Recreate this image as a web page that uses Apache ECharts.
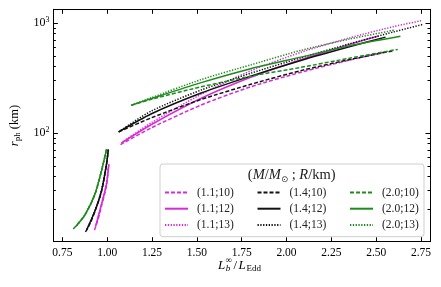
<!DOCTYPE html>
<html><head><meta charset="utf-8">
<script src="https://cdn.jsdelivr.net/npm/echarts@6/dist/echarts.min.js"></script>
<style>html,body{margin:0;padding:0;background:#fff}#c{width:441px;height:287px}</style>
</head><body><div id="c"></div>
<script>
// ---- tick labels ----
const xTicks = [0.75, 1.00, 1.25, 1.50, 1.75, 2.00, 2.25, 2.50, 2.75];
const yMajorTicks = [100, 1000];
const yMinorTicks = [20, 30, 40, 50, 60, 70, 80, 90, 200, 300, 400, 500, 600, 700, 800, 900];

// ---- legend names ----
const names = ['(1.1;10)', '(1.1;12)', '(1.1;13)', '(1.4;10)', '(1.4;12)', '(1.4;13)', '(2.0;10)', '(2.0;12)', '(2.0;13)'];

// ---- data: [L_b/L_Edd, r_ph km] ----
// M = 1.1
const m10_low = [[0.929, 13.0], [0.950, 16.5], [0.968, 21.5], [0.985, 27.5], [0.996, 33.6], [1.009, 51]];
const m12_low = [[0.935, 14.0], [0.968, 22.3], [0.996, 34.0], [1.009, 51.5]];
const m13_low = [[0.938, 14.5], [0.968, 22.5], [0.996, 34.3], [1.009, 52]];
const m10_up = [[1.074, 78], [1.247, 111], [1.524, 179], [1.8, 262], [2.08, 355], [2.35, 458], [2.56, 548]];
const m12_up = [[1.08, 81], [1.247, 119], [1.524, 206], [1.8, 320], [2.08, 462], [2.35, 637], [2.513, 760]];
const m13_up = [[1.08, 81], [1.247, 124], [1.524, 224], [1.8, 366], [2.08, 540], [2.35, 730], [2.6, 928], [2.75, 1045]];
// M = 1.4
const k10_low = [[0.879, 12.5], [0.905, 15.0], [0.931, 19.1], [0.968, 29.2], [0.996, 51], [1.006, 70]];
const k12_low = [[0.885, 13.0], [0.931, 19.3], [0.968, 29.5], [0.996, 51.5], [1.006, 70.5]];
const k13_low = [[0.888, 13.3], [0.931, 19.4], [0.968, 29.7], [0.996, 52], [1.006, 71]];
const k10_up = [[1.064, 102], [1.247, 137], [1.524, 201], [1.8, 276], [2.08, 368], [2.35, 463], [2.59, 556]];
const k12_up = [[1.064, 102], [1.247, 149], [1.524, 230], [1.8, 328], [2.08, 455], [2.35, 606], [2.552, 742]];
const k13_up = [[1.064, 102], [1.247, 158], [1.524, 245], [1.8, 348], [2.08, 481], [2.35, 644], [2.6, 830], [2.765, 973]];
// M = 2.0
const g10_low = [[0.811, 13.3], [0.845, 15.5], [0.876, 17.8], [0.931, 27.2], [0.968, 44.6], [0.996, 70.5]];
const g12_low = [[0.825, 14.0], [0.876, 17.9], [0.931, 27.5], [0.968, 45.0], [0.997, 71]];
const g13_low = [[0.830, 14.3], [0.876, 18.0], [0.931, 27.7], [0.968, 45.3], [0.998, 71.5]];
const g10_up = [[1.135, 178], [1.247, 202], [1.524, 262], [1.8, 327], [2.08, 394], [2.35, 477], [2.62, 574]];
const g12_up = [[1.135, 178], [1.247, 205], [1.524, 286], [1.8, 383], [2.08, 488], [2.35, 618], [2.635, 755]];
const g13_up = [[1.135, 178], [1.247, 209], [1.524, 305], [1.8, 415], [2.08, 562], [2.35, 712], [2.60, 858]];

const MAG = '#d62bd6', BLK = '#111111', GRN = '#1c8c1c';
const DASH = [4, 2], DOT = [1.3, 1.5];
const F = 'Liberation Serif';

const curves = [
  [names[0], MAG, DASH, m10_low, m10_up],
  [names[1], MAG, 'solid', m12_low, m12_up],
  [names[2], MAG, DOT, m13_low, m13_up],
  [names[3], BLK, DASH, k10_low, k10_up],
  [names[4], BLK, 'solid', k12_low, k12_up],
  [names[5], BLK, DOT, k13_low, k13_up],
  [names[6], GRN, DASH, g10_low, g10_up],
  [names[7], GRN, 'solid', g12_low, g12_up],
  [names[8], GRN, DOT, g13_low, g13_up]
];

const series = [];
curves.forEach(([name, color, type, low, up]) => {
  [low, up].forEach(d => series.push({
    name, type: 'line', data: d, symbol: 'none', showSymbol: false, smooth: 0.25,
    color, lineStyle: { color, width: 1.5, type }, z: 2, silent: true, animation: false
  }));
});

const axLine = { show: true, onZero: false, lineStyle: { color: '#000', width: 1 } };
const ylog = { type: 'log', min: 10.2, max: 1330, splitLine: { show: false } };
const xval = { type: 'value', min: 0.70, max: 2.80, splitLine: { show: false } };

function legendCol(left, items) {
  return {
    left, top: 186.5, orient: 'vertical', padding: 0, itemWidth: 23, itemHeight: 12, itemGap: 4.2,
    data: items, z: 6, selectedMode: false,
    itemStyle: { opacity: 0, borderWidth: 0 },
    textStyle: { fontFamily: F, fontSize: 11.5, color: '#222', padding: [0, 0, 0, 4] }
  };
}

const option = {
  animation: false,
  backgroundColor: '#fff',
  grid: { left: 52, top: 9.3, right: 11, bottom: 45.3 },
  xAxis: [
    Object.assign({}, xval, {
      position: 'bottom', axisLine: axLine,
      axisTick: { show: true, inside: true, length: 4.5, customValues: xTicks, lineStyle: { color: '#000' } },
      axisLabel: { customValues: xTicks, formatter: v => Number(v).toFixed(2), fontFamily: F, fontSize: 11.5, color: '#000', margin: 5 }
    }),
    Object.assign({}, xval, {
      position: 'top', axisLine: axLine,
      axisTick: { show: true, inside: true, length: 4.5, customValues: xTicks, lineStyle: { color: '#000' } },
      axisLabel: { show: false }
    })
  ],
  yAxis: [
    Object.assign({}, ylog, {
      position: 'left', axisLine: axLine,
      axisTick: { show: true, inside: true, length: 4.5, customValues: yMajorTicks, lineStyle: { color: '#000' } },
      axisLabel: {
        customValues: yMajorTicks, margin: 4, color: '#000',
        formatter: v => '{b|10}{s|' + Math.round(Math.log10(v)) + '}',
        rich: { b: { fontFamily: F, fontSize: 12, lineHeight: 14, color: '#000' }, s: { fontFamily: F, fontSize: 8, lineHeight: 7, verticalAlign: 'top', color: '#000' } }
      },
      name: '{i|r}{sub|ph}{n| (km)}', nameLocation: 'middle', nameRotate: 90, nameGap: 27,
      nameTextStyle: {
        rich: {
          i: { fontFamily: F, fontSize: 12.5, fontStyle: 'italic', lineHeight: 16, color: '#000' },
          sub: { fontFamily: F, fontSize: 9, lineHeight: 10, verticalAlign: 'bottom', color: '#000' },
          n: { fontFamily: F, fontSize: 12.5, lineHeight: 16, color: '#000' }
        }
      }
    }),
    Object.assign({}, ylog, {
      position: 'right', axisLine: axLine,
      axisTick: { show: true, inside: true, length: 4.5, customValues: yMajorTicks, lineStyle: { color: '#000' } },
      axisLabel: { show: false }
    }),
    Object.assign({}, ylog, {
      position: 'left', axisLine: { show: false },
      axisTick: { show: true, inside: true, length: 2.5, customValues: yMinorTicks, lineStyle: { color: '#000' } },
      axisLabel: { show: false }
    }),
    Object.assign({}, ylog, {
      position: 'right', axisLine: { show: false },
      axisTick: { show: true, inside: true, length: 2.5, customValues: yMinorTicks, lineStyle: { color: '#000' } },
      axisLabel: { show: false }
    })
  ],
  legend: [
    legendCol(164, names.slice(0, 3)),
    legendCol(256.5, names.slice(3, 6)),
    legendCol(349, names.slice(6, 9))
  ],
  graphic: {
    elements: [
      { type: 'rect', z: 4, shape: { x: 160, y: 164, width: 264, height: 72.7, r: 3 },
        style: { fill: 'rgba(255,255,255,0.85)', stroke: '#cfcfcf', lineWidth: 1 } },
      { type: 'text', z: 6, x: 291.7, y: 175.5,
        style: {
          text: '{n|(}{i|M}{n|/}{i|M}{s|\u2299}{n| ; }{i|R}{n|/km)}', align: 'center', verticalAlign: 'middle',
          textAlign: 'center', textVerticalAlign: 'middle',
          rich: {
            n: { fontFamily: F, fontSize: 14.5, lineHeight: 17, fill: '#222' },
            i: { fontFamily: F, fontSize: 14.5, fontStyle: 'italic', lineHeight: 17, fill: '#222' },
            s: { fontFamily: 'DejaVu Sans', fontSize: 8.5, lineHeight: 11, verticalAlign: 'bottom', fill: '#222' }
          }
        } },
      // x-axis title: L_b^inf / L_Edd
      { type: 'text', x: 218, y: 265.8, style: { text: 'L', fontFamily: F, fontSize: 13, fontStyle: 'italic', fill: '#000', verticalAlign: 'middle', textVerticalAlign: 'middle' } },
      { type: 'text', x: 225.5, y: 260.8, style: { text: '\u221E', fontFamily: F, fontSize: 9, fill: '#000', verticalAlign: 'middle', textVerticalAlign: 'middle' } },
      { type: 'text', x: 225.8, y: 268.8, style: { text: 'b', fontFamily: F, fontSize: 9, fontStyle: 'italic', fill: '#000', verticalAlign: 'middle', textVerticalAlign: 'middle' } },
      { type: 'text', x: 233.5, y: 265.8, style: { text: '/', fontFamily: F, fontSize: 13, fill: '#000', verticalAlign: 'middle', textVerticalAlign: 'middle' } },
      { type: 'text', x: 238.5, y: 265.8, style: { text: 'L', fontFamily: F, fontSize: 13, fontStyle: 'italic', fill: '#000', verticalAlign: 'middle', textVerticalAlign: 'middle' } },
      { type: 'text', x: 246.5, y: 268.8, style: { text: 'Edd', fontFamily: F, fontSize: 9, fill: '#000', verticalAlign: 'middle', textVerticalAlign: 'middle' } }
    ]
  },
  series
};

const chart = echarts.init(document.getElementById('c'), null, { renderer: 'canvas' });
chart.setOption(option);
</script></body></html>
